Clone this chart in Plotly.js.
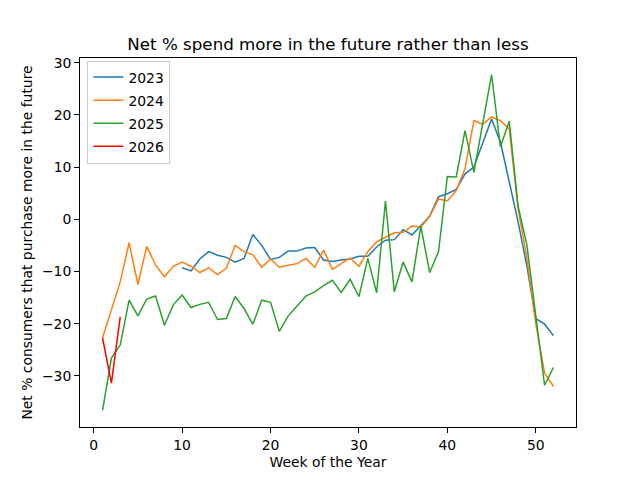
<!DOCTYPE html>
<html>
<head>
<meta charset="utf-8">
<script src="https://cdn.plot.ly/plotly-3.0.1.min.js"></script>
<style>html,body{margin:0;padding:0;background:#fff;}#chart{width:640px;height:480px;}</style>
</head>
<body>
<div id="chart"></div>
<script>
const weeksFull = [1,2,3,4,5,6,7,8,9,10,11,12,13,14,15,16,17,18,19,20,21,22,23,24,25,26,27,28,29,30,31,32,33,34,35,36,37,38,39,40,41,42,43,44,45,46,47,48,49,50,51,52];
const weeks2023 = [10,11,12,13,14,15,16,17,18,19,20,21,22,23,24,25,26,27,28,29,30,31,32,33,34,35,36,37,38,39,40,41,42,43,44,45,46,47,48,49,50,51,52];
const weeks2026 = [1,2,3];

const y2023 = [-9.3,-9.9,-7.6,-6.2,-6.9,-7.3,-8.2,-7.5,-2.9,-5.0,-7.7,-7.3,-6.1,-6.1,-5.5,-5.4,-7.8,-8.1,-7.8,-7.6,-7.1,-7.1,-5.3,-4.0,-3.9,-2.0,-3.0,-1.2,0.6,4.3,4.9,5.7,8.7,10.0,14.5,19.2,14.8,7.3,-0.5,-9.0,-19.0,-20.1,-22.3];
const y2024 = [-22.7,-17.4,-12.0,-4.5,-12.5,-5.2,-8.8,-11.0,-9.0,-8.2,-9.0,-10.2,-9.3,-10.6,-9.4,-5.0,-6.2,-6.8,-9.2,-7.6,-9.2,-8.8,-8.5,-7.5,-9.2,-5.9,-9.6,-8.5,-7.4,-9.0,-6.2,-4.3,-3.5,-2.6,-2.5,-1.3,-1.5,0.5,3.9,3.5,5.5,9.7,18.9,18.2,19.6,18.9,17.3,2.0,-7.5,-20.0,-29.5,-32.0];
const y2025 = [-36.6,-26.6,-24.1,-15.5,-18.5,-15.3,-14.7,-20.3,-16.4,-14.5,-16.9,-16.3,-15.9,-19.2,-19.0,-14.8,-17.1,-20.1,-15.5,-15.9,-21.5,-18.5,-16.6,-14.7,-13.9,-12.7,-11.7,-14.0,-11.5,-14.8,-7.5,-14.1,3.5,-13.9,-8.2,-12.0,-1.3,-10.2,-6.2,8.2,8.1,17.0,9.0,18.5,27.7,13.9,18.8,2.5,-5.0,-18.5,-31.8,-28.4];
const y2026 = [-22.7,-31.4,-18.7];

const names = ['2023','2024','2025','2026'];
const colors = ['#1f77b4','#ff7f0e','#2ca02c','#ff0000'];
const xs = [weeks2023, weeksFull, weeksFull, weeks2026];
const ys = [y2023, y2024, y2025, y2026];

const traces = names.map((n,i)=>({
  x: xs[i], y: ys[i], name: n, type:'scatter', mode:'lines',
  line:{color:colors[i], width:1.5}, legendgroup:'g'+i
}));

const FS = 13.9;
const axisCommon = {
  showline:true, mirror:true, linecolor:'#000', linewidth:1,
  ticks:'outside', ticklen:4.9, tickwidth:1, tickcolor:'#000',
  showgrid:false, zeroline:false,
  tickfont:{family:'DejaVu Sans', size:FS, color:'#000'}
};

const layout = {
  width:640, height:480,
  margin:{l:80, r:64, t:58, b:53},
  paper_bgcolor:'#fff', plot_bgcolor:'#fff',
  font:{family:'DejaVu Sans', size:FS, color:'#000'},
  title:{text:'Net % spend more in the future rather than less', font:{family:'DejaVu Sans', size:16.7, color:'#000'}, x:0.5, xanchor:'center', y:1-44/480, yanchor:'middle', xref:'paper', yref:'container'},
  xaxis: Object.assign({}, axisCommon, {range:[-1.55,54.55], tickmode:'linear', tick0:0, dtick:10,
    title:{text:'Week of the Year', font:{family:'DejaVu Sans', size:FS, color:'#000'}, standoff:5}}),
  yaxis: Object.assign({}, axisCommon, {range:[-39.8,30.9], tickmode:'linear', tick0:-30, dtick:10,
    title:{text:'Net % consumers that purchase more in the future', font:{family:'DejaVu Sans', size:FS, color:'#000'}, standoff:6}}),
  showlegend:true,
  legend:{x:0.015, y:0.993, xanchor:'left', yanchor:'top', bgcolor:'rgba(255,255,255,0.8)', bordercolor:'#cccccc', borderwidth:1,
    font:{family:'DejaVu Sans', size:FS, color:'#000'}, tracegroupgap:2, itemwidth:30}
};

Plotly.newPlot('chart', traces, layout, {displayModeBar:false, staticPlot:true});
</script>
</body>
</html>
